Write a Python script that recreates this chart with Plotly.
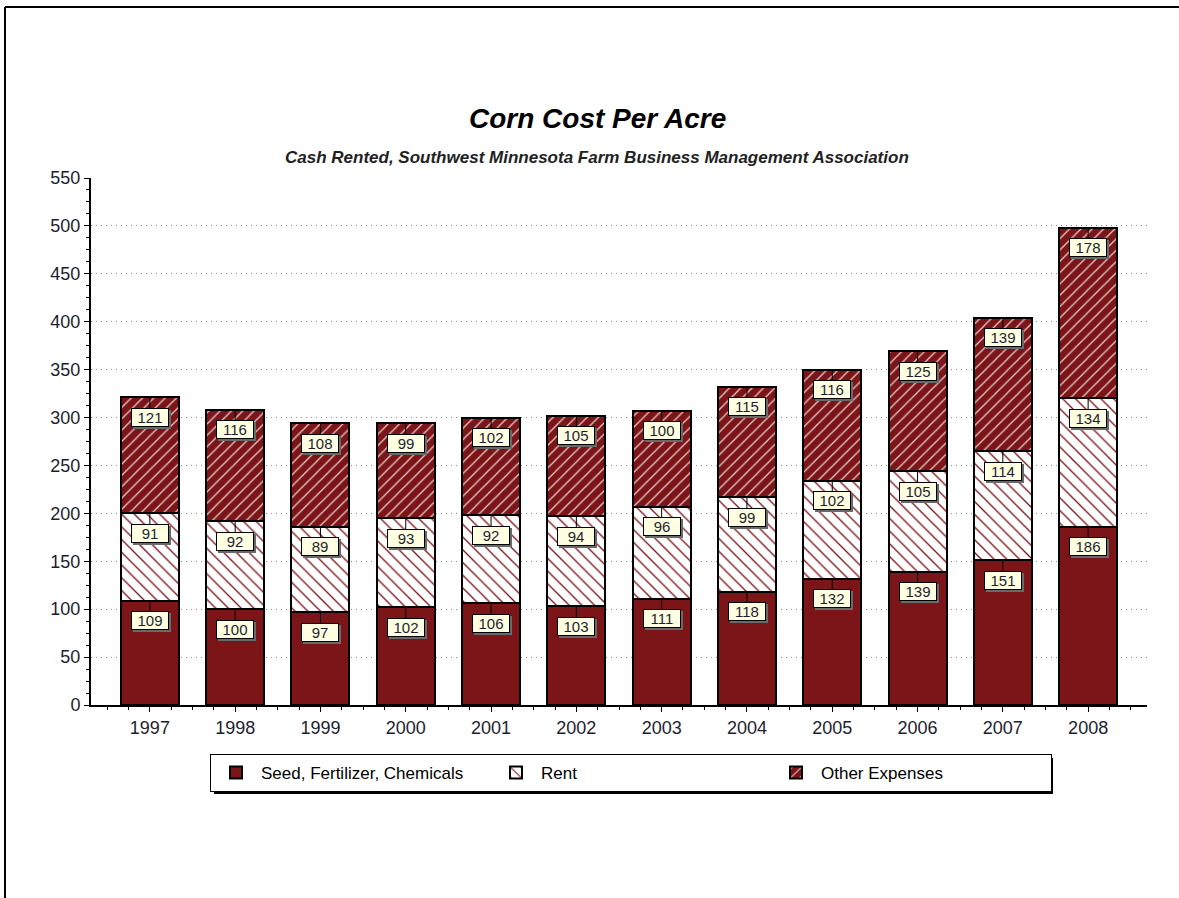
import plotly.graph_objects as go

years = ["1997", "1998", "1999", "2000", "2001", "2002", "2003", "2004", "2005", "2006", "2007", "2008"]
seed = [109, 100, 97, 102, 106, 103, 111, 118, 132, 139, 151, 186]
rent = [91, 92, 89, 93, 92, 94, 96, 99, 102, 105, 114, 134]
other = [121, 116, 108, 99, 102, 105, 100, 115, 116, 125, 139, 178]
series_names = ["Seed, Fertilizer, Chemicals", "Rent", "Other Expenses"]

DARK = "#7C1518"
FONT = "Arial, Liberation Sans, sans-serif"
TXT = "#1E1E30"

W, H = 1179, 898
L, R, T, B = 91, 32, 178, 193
PW, PH = W - L - R, H - T - B


def px2x(px):
    return (px - L) / PW


def py2y(py):
    return (H - B - py) / PH


xs = list(range(len(years)))

fig = go.Figure()
fig.add_bar(x=xs, y=seed, name=series_names[0], width=0.68,
            marker=dict(color=DARK, line=dict(color="black", width=2)))
fig.add_bar(x=xs, y=rent, name=series_names[1], width=0.68,
            marker=dict(color="white", line=dict(color="black", width=2),
                        pattern=dict(shape="\\", fgcolor=DARK, bgcolor="white",
                                     size=9, solidity=0.15, fillmode="replace")))
fig.add_bar(x=xs, y=other, name=series_names[2], width=0.68,
            marker=dict(color=DARK, line=dict(color="black", width=2),
                        pattern=dict(shape="/", fgcolor="#EBCFCF", bgcolor=DARK,
                                     size=8, solidity=0.15, fillmode="replace")))

annots = []
shadows = []
for i in xs:
    base = 0
    for vals in (seed, rent, other):
        top = base + vals[i]
        shadows.append(dict(x=i, y=top, xref="x", yref="y", text=str(vals[i]),
                            showarrow=False, xshift=2, yshift=-22, width=36, height=17,
                            font=dict(family=FONT, size=15, color="#6A6A6A"),
                            bgcolor="#6A6A6A", bordercolor="#6A6A6A", borderwidth=1,
                            borderpad=0))
        annots.append(dict(x=i, y=top, xref="x", yref="y", text=str(vals[i]),
                           showarrow=True, ax=0, ay=20, arrowhead=0, arrowwidth=1,
                           arrowcolor="black", width=36, height=17, align="center",
                           font=dict(family=FONT, size=15, color=TXT),
                           bgcolor="#FFFFE1", bordercolor="black", borderwidth=1,
                           borderpad=0))
        base = top

titles = [
    dict(x=px2x(597), y=py2y(119), xref="paper", yref="paper", showarrow=False,
         xanchor="center", yanchor="middle",
         text="<b><i>Corn Cost Per Acre</i></b>",
         font=dict(family=FONT, size=28, color="black")),
    dict(x=px2x(597), y=py2y(157), xref="paper", yref="paper", showarrow=False,
         xanchor="center", yanchor="middle",
         text="<b><i>Cash Rented, Southwest Minnesota Farm Business Management Association</i></b>",
         font=dict(family=FONT, size=17, color="#222222")),
]

LEG_L, LEG_R, LEG_T, LEG_B = 210, 1048, 754, 790

shapes = [
    # page frame (top and left)
    dict(type="line", xref="paper", yref="paper", x0=px2x(5), x1=px2x(1179),
         y0=py2y(7), y1=py2y(7), line=dict(color="black", width=2)),
    dict(type="line", xref="paper", yref="paper", x0=px2x(5), x1=px2x(5),
         y0=py2y(7), y1=py2y(898), line=dict(color="black", width=2)),
    # legend shadow
    dict(type="rect", xref="paper", yref="paper", x0=px2x(LEG_L + 4), x1=px2x(LEG_R + 5),
         y0=py2y(LEG_T + 4), y1=py2y(LEG_B + 4), fillcolor="black", line=dict(width=0),
         layer="above"),
]

fig.update_layout(
    width=W, height=H,
    margin=dict(l=L, r=R, t=T, b=B, pad=0),
    barmode="stack",
    paper_bgcolor="white", plot_bgcolor="white",
    font=dict(family=FONT, color=TXT),
    showlegend=True,
    legend=dict(orientation="h", x=px2x(LEG_L), y=py2y(LEG_T), xanchor="left", yanchor="top",
                bgcolor="white", bordercolor="black", borderwidth=1,
                font=dict(family=FONT, size=17, color="black"),
                entrywidth=225, entrywidthmode="pixels", itemwidth=40,
                traceorder="normal", tracegroupgap=0),
    annotations=shadows + annots + titles,
    shapes=shapes,
    xaxis=dict(range=[-0.69, 11.69], tickmode="array", tickvals=xs, ticktext=years,
               showline=True, linecolor="black", linewidth=2, ticks="outside",
               ticklen=5, tickwidth=1, tickcolor="black", showgrid=False, zeroline=False,
               tickfont=dict(family=FONT, size=18, color=TXT),
               minor=dict(dtick=0.25, tick0=0, ticks="outside", ticklen=3,
                          tickcolor="black", showgrid=False)),
    yaxis=dict(range=[0, 550], dtick=50, showline=True, linecolor="black", linewidth=2,
               ticks="outside", ticklen=5, tickcolor="black", zeroline=False,
               showgrid=True, gridcolor="#8A8A8A", griddash="1px,4px", gridwidth=1,
               tickfont=dict(family=FONT, size=18, color=TXT),
               minor=dict(dtick=12.5, ticks="outside", ticklen=3, tickcolor="black",
                          showgrid=False)),
)

fig.write_html("out.html", config={"displayModeBar": False},
               post_script="document.body.style.margin='0';")
